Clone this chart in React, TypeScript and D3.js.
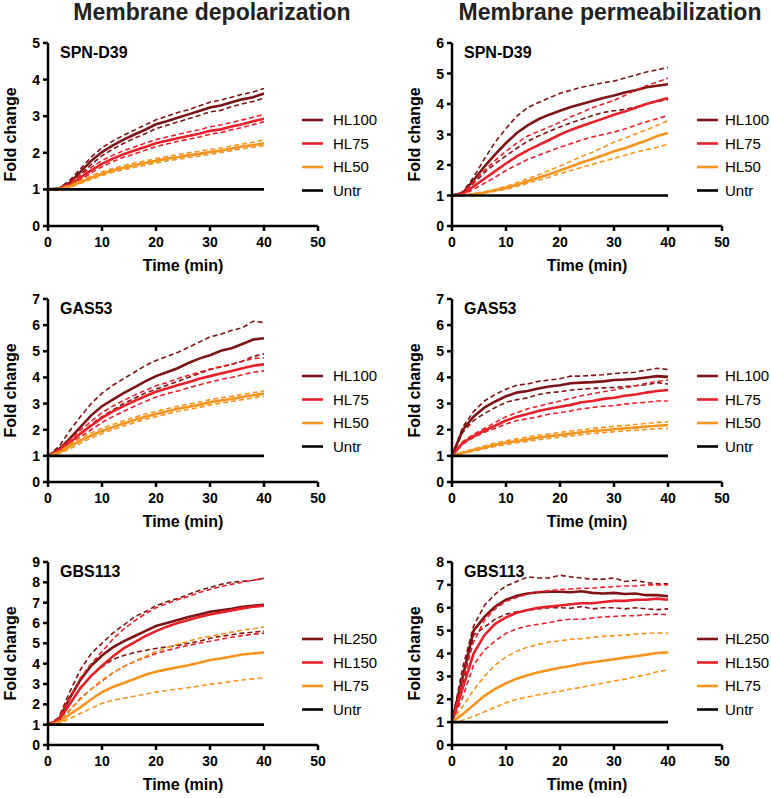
import React from "react";
import * as d3 from "d3";

// ---------- data ----------
const time = [0, 2, 4, 6, 8, 10, 12, 14, 16, 18, 20, 22, 24, 26, 28, 30, 32, 34, 36, 38, 40];
const untreated = [1, 1, 1, 1, 1, 1, 1, 1, 1, 1, 1, 1, 1, 1, 1, 1, 1, 1, 1, 1, 1];

// Membrane depolarization – SPN-D39
const depSpnHL100 = [1.00,1.02,1.18,1.48,1.78,2.02,2.20,2.36,2.50,2.63,2.78,2.86,2.96,3.05,3.14,3.24,3.29,3.38,3.46,3.52,3.62];
const depSpnHL100Hi = [1.00,1.03,1.24,1.56,1.88,2.14,2.32,2.48,2.62,2.76,2.90,3.00,3.10,3.18,3.28,3.38,3.44,3.52,3.60,3.66,3.76];
const depSpnHL100Lo = [1.00,1.01,1.12,1.40,1.68,1.92,2.10,2.26,2.40,2.52,2.66,2.75,2.84,2.93,3.02,3.12,3.16,3.26,3.34,3.40,3.50];
const depSpnHL75 = [1.00,1.01,1.12,1.32,1.52,1.70,1.84,1.96,2.06,2.16,2.26,2.33,2.40,2.46,2.52,2.60,2.64,2.72,2.78,2.86,2.93];
const depSpnHL75Hi = [1.00,1.02,1.17,1.39,1.60,1.79,1.93,2.06,2.16,2.26,2.36,2.43,2.50,2.57,2.63,2.71,2.76,2.83,2.90,2.97,3.05];
const depSpnHL75Lo = [1.00,1.00,1.08,1.26,1.45,1.62,1.76,1.88,1.97,2.07,2.17,2.24,2.31,2.37,2.43,2.51,2.55,2.63,2.69,2.77,2.85];
const depSpnHL50 = [1.00,1.01,1.08,1.20,1.32,1.43,1.52,1.59,1.66,1.72,1.78,1.84,1.88,1.93,1.97,2.02,2.06,2.12,2.17,2.21,2.26];
const depSpnHL50Hi = [1.00,1.02,1.11,1.24,1.37,1.48,1.57,1.65,1.72,1.78,1.84,1.90,1.95,2.00,2.04,2.09,2.13,2.19,2.24,2.29,2.35];
const depSpnHL50Lo = [1.00,1.00,1.05,1.16,1.28,1.38,1.47,1.54,1.60,1.66,1.72,1.78,1.82,1.87,1.91,1.96,2.00,2.06,2.11,2.15,2.20];

// Membrane permeabilization – SPN-D39
const perSpnHL100 = [1.00,1.08,1.50,1.95,2.35,2.72,3.05,3.30,3.50,3.65,3.78,3.90,4.00,4.10,4.20,4.28,4.38,4.45,4.55,4.60,4.65];
const perSpnHL100Hi = [1.00,1.12,1.60,2.20,2.75,3.20,3.60,3.88,4.05,4.20,4.35,4.45,4.55,4.62,4.70,4.75,4.85,4.95,5.05,5.12,5.20];
const perSpnHL100Lo = [1.00,1.05,1.40,1.75,2.05,2.30,2.55,2.78,2.95,3.10,3.25,3.38,3.50,3.62,3.72,3.78,3.82,3.90,4.00,4.08,4.15];
const perSpnHL75 = [1.00,1.05,1.30,1.55,1.80,2.05,2.28,2.48,2.65,2.82,3.00,3.15,3.28,3.40,3.52,3.65,3.75,3.88,4.00,4.10,4.20];
const perSpnHL75Hi = [1.00,1.08,1.45,1.82,2.15,2.45,2.72,2.95,3.10,3.25,3.40,3.58,3.72,3.88,4.00,4.12,4.28,4.45,4.60,4.72,4.85];
const perSpnHL75Lo = [1.00,1.03,1.20,1.40,1.60,1.82,2.00,2.18,2.32,2.45,2.58,2.70,2.82,2.92,3.00,3.08,3.18,3.30,3.42,3.52,3.62];
const perSpnHL50 = [1.00,1.01,1.05,1.10,1.17,1.25,1.35,1.47,1.58,1.70,1.82,1.95,2.08,2.20,2.32,2.45,2.55,2.68,2.80,2.95,3.05];
const perSpnHL50Hi = [1.00,1.01,1.06,1.12,1.20,1.30,1.42,1.55,1.68,1.82,1.97,2.12,2.28,2.42,2.58,2.75,2.88,3.02,3.15,3.30,3.45];
const perSpnHL50Lo = [1.00,1.00,1.04,1.08,1.14,1.20,1.30,1.40,1.50,1.60,1.72,1.82,1.92,2.02,2.12,2.22,2.32,2.42,2.50,2.58,2.68];

// Membrane depolarization – GAS53
const depGasHL100 = [1.00,1.25,1.65,2.10,2.55,2.90,3.15,3.40,3.62,3.85,4.05,4.20,4.35,4.55,4.72,4.85,5.02,5.12,5.28,5.45,5.50];
const depGasHL100Hi = [1.00,1.35,1.95,2.50,3.00,3.40,3.70,3.95,4.20,4.45,4.65,4.80,4.95,5.15,5.35,5.55,5.65,5.80,5.90,6.15,6.10];
const depGasHL100Lo = [1.00,1.20,1.50,1.85,2.20,2.50,2.75,3.00,3.20,3.40,3.55,3.70,3.85,4.00,4.15,4.30,4.40,4.50,4.62,4.80,4.90];
const depGasHL75 = [1.00,1.20,1.50,1.85,2.15,2.45,2.70,2.90,3.10,3.28,3.45,3.58,3.70,3.82,3.95,4.05,4.15,4.25,4.35,4.45,4.50];
const depGasHL75Hi = [1.00,1.25,1.60,1.98,2.32,2.65,2.90,3.12,3.32,3.50,3.68,3.80,3.95,4.08,4.20,4.32,4.42,4.50,4.62,4.72,4.75];
const depGasHL75Lo = [1.00,1.15,1.42,1.72,2.00,2.28,2.50,2.70,2.90,3.08,3.25,3.38,3.48,3.60,3.72,3.82,3.92,4.00,4.10,4.20,4.25];
const depGasHL50 = [1.00,1.12,1.35,1.58,1.78,1.95,2.10,2.24,2.37,2.50,2.60,2.70,2.80,2.88,2.95,3.05,3.12,3.18,3.25,3.32,3.38];
const depGasHL50Hi = [1.00,1.16,1.44,1.68,1.88,2.05,2.20,2.34,2.47,2.60,2.70,2.80,2.90,2.98,3.05,3.15,3.22,3.28,3.35,3.42,3.48];
const depGasHL50Lo = [1.00,1.08,1.26,1.48,1.68,1.85,2.00,2.14,2.27,2.40,2.50,2.60,2.70,2.78,2.85,2.95,3.02,3.08,3.15,3.22,3.28];

// Membrane permeabilization – GAS53
const perGasHL100 = [1.00,2.00,2.50,2.85,3.08,3.28,3.42,3.48,3.58,3.65,3.70,3.78,3.80,3.82,3.85,3.90,3.92,3.95,4.00,4.05,4.02];
const perGasHL100Hi = [1.00,2.10,2.70,3.10,3.35,3.55,3.70,3.75,3.85,3.90,3.95,4.05,4.05,4.08,4.10,4.15,4.18,4.20,4.28,4.35,4.30];
const perGasHL100Lo = [1.00,1.90,2.35,2.62,2.85,3.05,3.15,3.22,3.35,3.42,3.45,3.52,3.55,3.58,3.60,3.62,3.65,3.68,3.72,3.80,3.75];
const perGasHL75 = [1.00,1.50,1.75,1.97,2.15,2.35,2.50,2.60,2.72,2.80,2.88,2.95,3.05,3.10,3.18,3.22,3.30,3.35,3.42,3.48,3.52];
const perGasHL75Hi = [1.00,1.55,1.82,2.05,2.28,2.50,2.65,2.80,2.90,3.00,3.10,3.20,3.30,3.38,3.45,3.52,3.60,3.68,3.78,3.85,3.90];
const perGasHL75Lo = [1.00,1.45,1.70,1.90,2.05,2.22,2.35,2.42,2.50,2.60,2.65,2.72,2.80,2.85,2.90,2.92,2.98,3.02,3.05,3.10,3.10];
const perGasHL50 = [1.00,1.12,1.22,1.32,1.42,1.50,1.57,1.63,1.70,1.75,1.80,1.85,1.90,1.95,1.98,2.02,2.05,2.08,2.12,2.15,2.18];
const perGasHL50Hi = [1.00,1.15,1.27,1.38,1.49,1.58,1.65,1.72,1.79,1.84,1.90,1.95,2.00,2.05,2.09,2.13,2.16,2.20,2.24,2.28,2.30];
const perGasHL50Lo = [1.00,1.09,1.18,1.27,1.36,1.43,1.50,1.55,1.62,1.67,1.72,1.76,1.81,1.86,1.89,1.92,1.95,1.98,2.01,2.04,2.05];

// Membrane depolarization – GBS113
const depGbsHL250 = [1.00,1.25,2.30,3.20,3.90,4.40,4.80,5.10,5.35,5.60,5.85,6.00,6.15,6.30,6.42,6.55,6.62,6.70,6.80,6.85,6.90];
const depGbsHL250Hi = [1.00,1.35,2.60,3.70,4.50,5.00,5.50,5.90,6.30,6.55,6.85,7.05,7.20,7.40,7.60,7.75,7.90,8.00,8.05,8.10,8.20];
const depGbsHL250Lo = [1.00,1.15,2.00,2.80,3.40,3.85,4.20,4.40,4.55,4.65,4.75,4.82,4.90,5.00,5.10,5.25,5.35,5.42,5.50,5.55,5.60];
const depGbsHL150 = [1.00,1.20,2.00,2.80,3.40,3.90,4.35,4.75,5.05,5.35,5.60,5.82,6.00,6.15,6.30,6.42,6.52,6.62,6.72,6.80,6.85];
const depGbsHL150Hi = [1.00,1.30,2.30,3.30,4.00,4.60,5.20,5.70,6.10,6.45,6.75,6.95,7.15,7.30,7.50,7.65,7.80,7.90,8.00,8.10,8.20];
const depGbsHL150Lo = [1.00,1.10,1.70,2.30,2.75,3.15,3.55,3.85,4.10,4.30,4.50,4.65,4.78,4.90,5.00,5.10,5.20,5.30,5.38,5.45,5.50];
const depGbsHL75 = [1.00,1.10,1.50,1.85,2.25,2.60,2.85,3.05,3.25,3.45,3.60,3.72,3.82,3.92,4.05,4.18,4.25,4.35,4.45,4.50,4.55];
const depGbsHL75Hi = [1.00,1.15,1.70,2.25,2.75,3.20,3.55,3.85,4.10,4.35,4.60,4.78,4.95,5.10,5.25,5.35,5.45,5.55,5.65,5.72,5.80];
const depGbsHL75Lo = [1.00,1.05,1.30,1.55,1.80,2.05,2.20,2.30,2.40,2.50,2.60,2.68,2.75,2.82,2.90,2.98,3.05,3.12,3.20,3.25,3.30];

// Membrane permeabilization – GBS113
const perGbsHL250 = [1.00,3.00,5.00,5.60,6.05,6.35,6.52,6.62,6.68,6.70,6.70,6.68,6.72,6.65,6.62,6.65,6.60,6.62,6.55,6.55,6.50];
const perGbsHL250Hi = [1.00,3.40,5.20,6.10,6.60,6.95,7.15,7.35,7.30,7.30,7.42,7.35,7.30,7.25,7.25,7.30,7.15,7.20,7.10,7.05,7.05];
const perGbsHL250Lo = [1.00,2.60,4.80,5.15,5.50,5.72,5.82,5.90,5.95,6.00,6.00,5.98,6.05,5.95,6.00,6.00,5.95,6.00,5.95,5.92,5.95];
const perGbsHL150 = [1.00,2.50,4.00,4.80,5.30,5.58,5.78,5.90,6.00,6.05,6.10,6.15,6.20,6.20,6.25,6.30,6.30,6.35,6.35,6.40,6.35];
const perGbsHL150Hi = [1.00,2.90,4.50,5.45,5.95,6.28,6.45,6.60,6.70,6.75,6.80,6.82,6.85,6.85,6.90,6.92,6.95,6.95,7.00,7.00,7.00];
const perGbsHL150Lo = [1.00,2.10,3.50,4.15,4.55,4.88,5.08,5.20,5.28,5.35,5.45,5.50,5.50,5.55,5.60,5.62,5.65,5.65,5.70,5.72,5.70];
const perGbsHL75 = [1.00,1.35,1.75,2.15,2.45,2.70,2.90,3.05,3.18,3.28,3.38,3.45,3.55,3.62,3.68,3.75,3.82,3.88,3.95,4.02,4.05];
const perGbsHL75Hi = [1.00,1.70,2.40,3.00,3.50,3.85,4.10,4.28,4.40,4.50,4.55,4.62,4.65,4.70,4.75,4.78,4.80,4.85,4.88,4.90,4.88];
const perGbsHL75Lo = [1.00,1.08,1.25,1.45,1.65,1.85,2.00,2.10,2.20,2.28,2.35,2.45,2.52,2.62,2.70,2.80,2.88,2.98,3.08,3.20,3.28];

const columnTitles = ["Membrane depolarization", "Membrane permeabilization"];
const strainNames = ["SPN-D39", "GAS53", "GBS113"];
const legendLow = ["HL100", "HL75", "HL50", "Untr"];
const legendHigh = ["HL250", "HL150", "HL75", "Untr"];
const yMaxes = [[5, 6], [7, 7], [9, 8]];
const xTicks = [0, 10, 20, 30, 40, 50];
const seriesColors = ["#7d1416", "#e8202a", "#f7941d", "#000000"];

type Band = { mean: number[]; hi: number[]; lo: number[] };
const panels: Band[][][] = [
  [
    [
      { mean: depSpnHL100, hi: depSpnHL100Hi, lo: depSpnHL100Lo },
      { mean: depSpnHL75, hi: depSpnHL75Hi, lo: depSpnHL75Lo },
      { mean: depSpnHL50, hi: depSpnHL50Hi, lo: depSpnHL50Lo },
    ],
    [
      { mean: perSpnHL100, hi: perSpnHL100Hi, lo: perSpnHL100Lo },
      { mean: perSpnHL75, hi: perSpnHL75Hi, lo: perSpnHL75Lo },
      { mean: perSpnHL50, hi: perSpnHL50Hi, lo: perSpnHL50Lo },
    ],
  ],
  [
    [
      { mean: depGasHL100, hi: depGasHL100Hi, lo: depGasHL100Lo },
      { mean: depGasHL75, hi: depGasHL75Hi, lo: depGasHL75Lo },
      { mean: depGasHL50, hi: depGasHL50Hi, lo: depGasHL50Lo },
    ],
    [
      { mean: perGasHL100, hi: perGasHL100Hi, lo: perGasHL100Lo },
      { mean: perGasHL75, hi: perGasHL75Hi, lo: perGasHL75Lo },
      { mean: perGasHL50, hi: perGasHL50Hi, lo: perGasHL50Lo },
    ],
  ],
  [
    [
      { mean: depGbsHL250, hi: depGbsHL250Hi, lo: depGbsHL250Lo },
      { mean: depGbsHL150, hi: depGbsHL150Hi, lo: depGbsHL150Lo },
      { mean: depGbsHL75, hi: depGbsHL75Hi, lo: depGbsHL75Lo },
    ],
    [
      { mean: perGbsHL250, hi: perGbsHL250Hi, lo: perGbsHL250Lo },
      { mean: perGbsHL150, hi: perGbsHL150Hi, lo: perGbsHL150Lo },
      { mean: perGbsHL75, hi: perGbsHL75Hi, lo: perGbsHL75Lo },
    ],
  ],
];

// ---------- layout ----------
const W = 771;
const H = 798;
const colAxisX = [48, 452];
const plotW = 270;
const rowTops = [43, 299, 562];
const plotH = 183;
const legendLineStart = [254, 245];
const legendTextStart = [285, 273];
const FONT = "Arial, 'Liberation Sans', Helvetica, sans-serif";

function Panel({ row, col }: { row: number; col: number }) {
  const x0 = colAxisX[col];
  const top = rowTops[row];
  const bottom = top + plotH;
  const yMax = yMaxes[row][col];
  const x = d3.scaleLinear().domain([0, 50]).range([x0, x0 + plotW]);
  const y = d3.scaleLinear().domain([0, yMax]).range([bottom, top]);
  const line = d3
    .line<number>()
    .x((_, i) => x(time[i]))
    .y((v) => y(v));
  const yTicks = d3.range(0, yMax + 1);
  const bands = panels[row][col];
  const legend = row === 2 ? legendHigh : legendLow;
  return (
    <g>
      {bands.map((b, i) => (
        <g key={i} fill="none" stroke={seriesColors[i]}>
          <path d={line(b.hi) || ""} strokeWidth={1.6} strokeDasharray="5,3" />
          <path d={line(b.lo) || ""} strokeWidth={1.6} strokeDasharray="5,3" />
          <path d={line(b.mean) || ""} strokeWidth={2.6} />
        </g>
      ))}
      <path d={line(untreated) || ""} fill="none" stroke="#000" strokeWidth={2.6} />
      {/* axes */}
      <line x1={x0} x2={x0} y1={top} y2={bottom + 1.25} stroke="#000" strokeWidth={2.5} />
      <line x1={x0 - 1.25} x2={x0 + plotW} y1={bottom} y2={bottom} stroke="#000" strokeWidth={2.5} />
      {yTicks.map((t) => (
        <g key={"y" + t}>
          <line x1={x0 - 5} x2={x0} y1={y(t)} y2={y(t)} stroke="#000" strokeWidth={2.5} />
          <text x={x0 - 8} y={y(t)} dy="0.36em" textAnchor="end" fontSize={14} fontWeight="bold" fontFamily={FONT}>
            {t}
          </text>
        </g>
      ))}
      {xTicks.map((t) => (
        <g key={"x" + t}>
          <line x1={x(t)} x2={x(t)} y1={bottom} y2={bottom + 5} stroke="#000" strokeWidth={2.5} />
          <text x={x(t)} y={bottom + 21} textAnchor="middle" fontSize={14} fontWeight="bold" fontFamily={FONT}>
            {t}
          </text>
        </g>
      ))}
      <text x={x0 + 12} y={top + 15} fontSize={16} fontWeight="bold" fontFamily={FONT}>
        {strainNames[row]}
      </text>
      <text
        transform={`translate(${x0 - 32},${(top + bottom) / 2}) rotate(-90)`}
        textAnchor="middle"
        fontSize={16}
        fontWeight="bold"
        fontFamily={FONT}
      >
        Fold change
      </text>
      <text x={x(25)} y={bottom + 45} textAnchor="middle" fontSize={16} fontWeight="bold" fontFamily={FONT}>
        Time (min)
      </text>
      {legend.map((name, i) => {
        const ly = top + 77 + i * 23.5;
        return (
          <g key={name + i}>
            <line
              x1={x0 + legendLineStart[col]}
              x2={x0 + legendLineStart[col] + 21}
              y1={ly}
              y2={ly}
              stroke={seriesColors[i]}
              strokeWidth={2.6}
            />
            <text x={x0 + legendTextStart[col]} y={ly} dy="0.36em" fontSize={15} fontFamily={FONT}>
              {name}
            </text>
          </g>
        );
      })}
    </g>
  );
}

export default function App() {
  return (
    <svg
      width={W}
      height={H}
      viewBox={`0 0 ${W} ${H}`}
      style={{ position: "absolute", left: 0, top: 0, background: "#fff" }}
    >
      <rect width={W} height={H} fill="#fff" />
      <text x={212} y={20} textAnchor="middle" fontSize={23} fontWeight="bold" fontFamily={FONT} fill="#222">
        {columnTitles[0]}
      </text>
      <text x={610} y={20} textAnchor="middle" fontSize={23} fontWeight="bold" fontFamily={FONT} fill="#222">
        {columnTitles[1]}
      </text>
      {[0, 1, 2].map((r) =>
        [0, 1].map((c) => <Panel key={r + "-" + c} row={r} col={c} />)
      )}
    </svg>
  );
}
